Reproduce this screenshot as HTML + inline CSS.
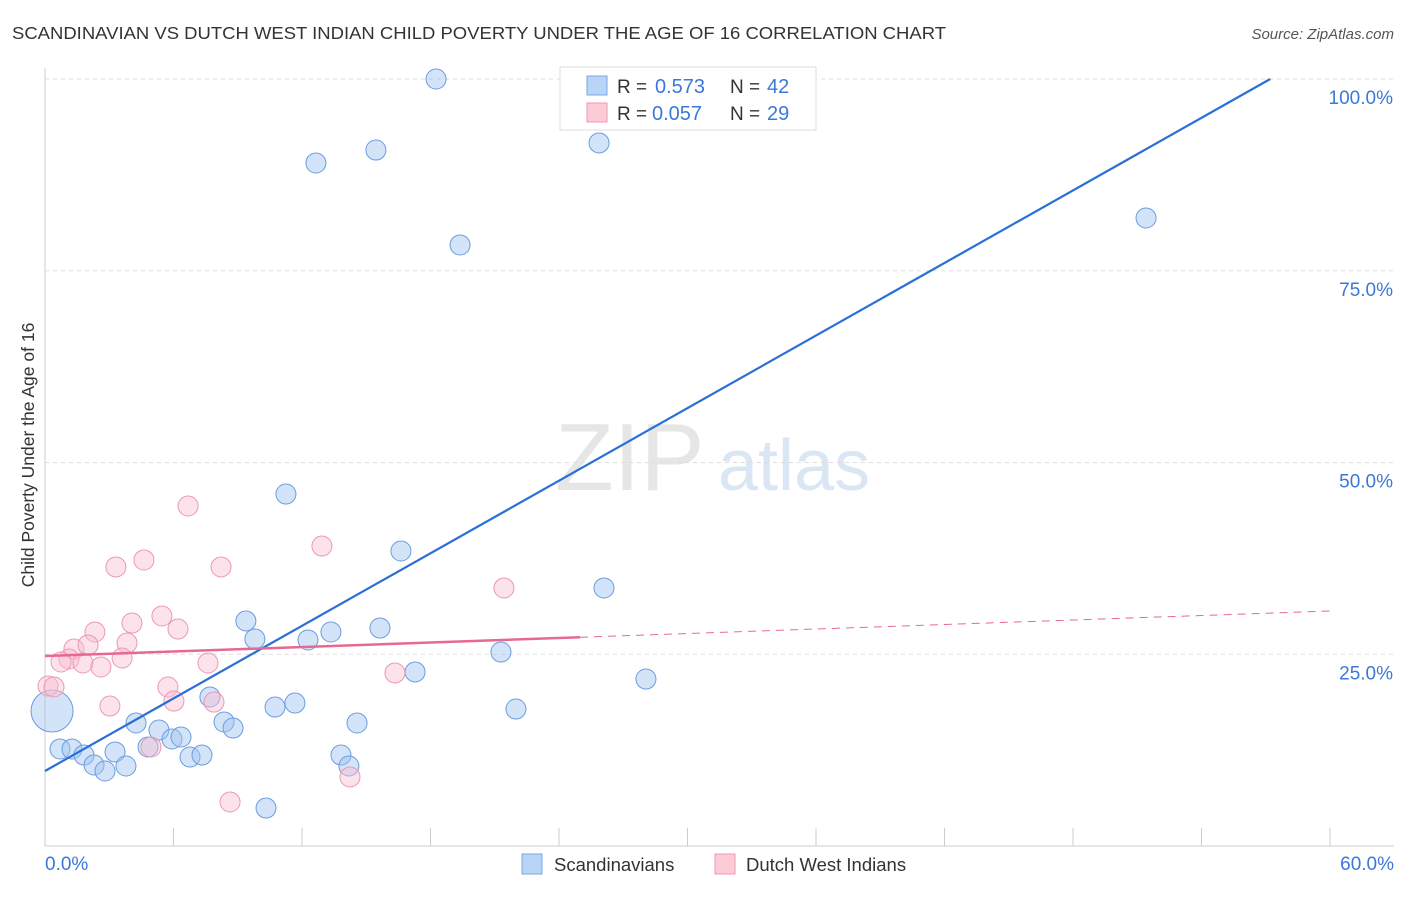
<!DOCTYPE html>
<html><head><meta charset="utf-8">
<style>
body{margin:0;background:#fff;font-family:"Liberation Sans",sans-serif;}
svg text{font-family:"Liberation Sans",sans-serif;}
</style></head>
<body>
<svg id="chart" width="1406" height="892">
<text x="12" y="39" font-size="17.5" fill="#333" textLength="934" lengthAdjust="spacingAndGlyphs">SCANDINAVIAN VS DUTCH WEST INDIAN CHILD POVERTY UNDER THE AGE OF 16 CORRELATION CHART</text>
<text x="1394" y="39" font-size="15" fill="#555" font-style="italic" text-anchor="end">Source: ZipAtlas.com</text>
<text x="0" y="0" transform="translate(34,455) rotate(-90)" font-size="17.5" fill="#333" text-anchor="middle">Child Poverty Under the Age of 16</text>
<g>
<text x="555" y="490" font-size="96" fill="#e6e6e6" font-family="Liberation Serif">ZIP</text>
<text x="718" y="490" font-size="72" fill="#dbe6f5">atlas</text>
</g>
<g id="grid"></g>
<g id="marks"></g>
<g>
<rect x="560" y="67" width="256" height="63" fill="#fff" stroke="#ddd"/>
<rect x="587" y="76" width="20" height="19" fill="#b8d4f6" stroke="#7aa8e4"/>
<rect x="587" y="103" width="20" height="19" fill="#fbcbd8" stroke="#ee9ab4"/>
<text x="617" y="93" font-size="19" fill="#333">R = </text><text x="655" y="93" font-size="20" fill="#3b78d8">0.573</text>
<text x="730" y="93" font-size="19" fill="#333">N = </text><text x="767" y="93" font-size="20" fill="#3b78d8">42</text>
<text x="617" y="120" font-size="19" fill="#333">R = </text><text x="652" y="120" font-size="20" fill="#3b78d8">0.057</text>
<text x="730" y="120" font-size="19" fill="#333">N = </text><text x="767" y="120" font-size="20" fill="#3b78d8">29</text>
</g>
<g>
<rect x="522" y="854" width="20" height="20" fill="#b8d4f6" stroke="#7aa8e4"/>
<text x="554" y="871" font-size="18.5" fill="#333">Scandinavians</text>
<rect x="715" y="854" width="20" height="20" fill="#fbcbd8" stroke="#ee9ab4"/>
<text x="746" y="871" font-size="18.5" fill="#333">Dutch West Indians</text>
</g>
</svg>
<script>
const xTickLabels=["0.0%","60.0%"];
const yTicks=[25,50,75,100];
const yTickLabels=["25.0%","50.0%","75.0%","100.0%"];
const blueX=[18.26,12.65,15.45,25.87,19.38,51.41,11.25,16.62,26.10,9.38,9.80,12.28,13.35,15.64,21.29,17.28,28.06,7.70,10.74,11.67,21.99,4.25,5.32,8.36,8.78,14.57,4.81,5.93,6.35,0.70,1.26,1.82,2.29,2.80,3.27,3.78,6.77,7.33,13.82,14.19,10.32,0.33];
const blueY=[100.0,89.05,90.74,91.66,78.36,81.88,45.89,38.46,33.64,29.34,26.99,26.86,27.90,28.42,25.29,22.69,21.77,19.43,18.12,18.64,17.86,16.04,15.12,16.17,15.38,16.04,12.91,13.95,14.21,12.65,12.65,11.86,10.56,9.78,12.26,10.43,11.60,11.86,11.86,10.43,4.95,17.60];
const blueSize=[1,1,1,1,1,1,1,1,1,1,1,1,1,1,1,1,1,1,1,1,1,1,1,1,1,1,1,1,1,1,1,1,1,1,1,1,1,1,1,1,1,2.1];
const pinkX=[6.68,4.62,3.31,8.22,12.93,21.43,5.46,4.06,6.21,2.33,3.83,1.35,2.01,1.12,0.75,1.77,3.60,2.61,7.61,16.34,0.14,0.42,5.74,3.03,6.02,7.89,4.95,14.24,8.64];
const pinkY=[44.33,37.29,36.38,36.38,39.11,33.64,29.99,29.07,28.29,27.90,26.47,25.68,26.21,24.38,23.99,23.86,24.51,23.34,23.86,22.56,20.86,20.73,20.73,18.25,18.90,18.77,12.91,9.00,5.74];
const blueTrend=[9.78,1.577];
const pinkTrend=[24.77,0.0978,24.98];
const X0=45,X1=1330,Y0=846,Y100=79;
const sx=v=>X0+(X1-X0)*v/60;
const sy=v=>Y0-(Y0-Y100)*v/100;
const NS="http://www.w3.org/2000/svg";
const grid=document.getElementById('grid'),marks=document.getElementById('marks');
function mk(tag,attrs,parent){const e=document.createElementNS(NS,tag);for(const k in attrs)e.setAttribute(k,attrs[k]);parent.appendChild(e);return e;}
let ax=mk('line',{x1:X0,y1:68,x2:X0,y2:Y0,stroke:'#ccc'},grid);


let bx=mk('line',{x1:X0,y1:Y0,x2:1394,y2:Y0,stroke:'#ccc'},grid);


yTicks.forEach((t,i)=>{
 const g=mk('line',{x1:X0,y1:sy(t),x2:1394,y2:sy(t),stroke:'#ddd','stroke-dasharray':'4,4'},grid);
 
 
 const l=mk('text',{x:1393,y:sy(t)+25,'font-size':19,fill:'#3b78d8','text-anchor':'end'},grid);
 l.textContent=yTickLabels[i];
 
 
});
for(let i=0;i<=10;i++){
 const t=mk('line',{x1:sx(i*6),y1:828,x2:sx(i*6),y2:Y0,stroke:'#ccc'},grid);
 
 
}
[[0,'start',45],[60,'end',1394]].forEach((d,i)=>{
 const l=mk('text',{x:d[2],y:870,'font-size':19,fill:'#3b78d8','text-anchor':d[1]},grid);
 l.textContent=xTickLabels[i];
 
 
});
blueX.forEach((x,i)=>{
 const c=mk('circle',{cx:sx(x),cy:sy(blueY[i]),r:10*blueSize[i],fill:'rgba(160,196,240,0.45)',stroke:'#6a9ce0','stroke-width':1},marks);
 
 
});
pinkX.forEach((x,i)=>{
 const c=mk('circle',{cx:sx(x),cy:sy(pinkY[i]),r:10,fill:'rgba(248,190,208,0.45)',stroke:'#ec98b4','stroke-width':1},marks);
 
 
});
const bxEnd=(100-blueTrend[0])/blueTrend[1];
let bl=mk('line',{x1:sx(0),y1:sy(blueTrend[0]),x2:sx(bxEnd),y2:sy(100),stroke:'#2a6fd6','stroke-width':2.2},marks);


let pl=mk('line',{x1:sx(0),y1:sy(pinkTrend[0]),x2:sx(pinkTrend[2]),y2:sy(pinkTrend[0]+pinkTrend[1]*pinkTrend[2]),stroke:'#e8698f','stroke-width':2.5},marks);


let pd=mk('line',{x1:sx(pinkTrend[2]),y1:sy(pinkTrend[0]+pinkTrend[1]*pinkTrend[2]),x2:sx(60),y2:sy(pinkTrend[0]+pinkTrend[1]*60),stroke:'#e8698f','stroke-width':1,'stroke-dasharray':'8,6'},marks);


</script>
</body></html>
